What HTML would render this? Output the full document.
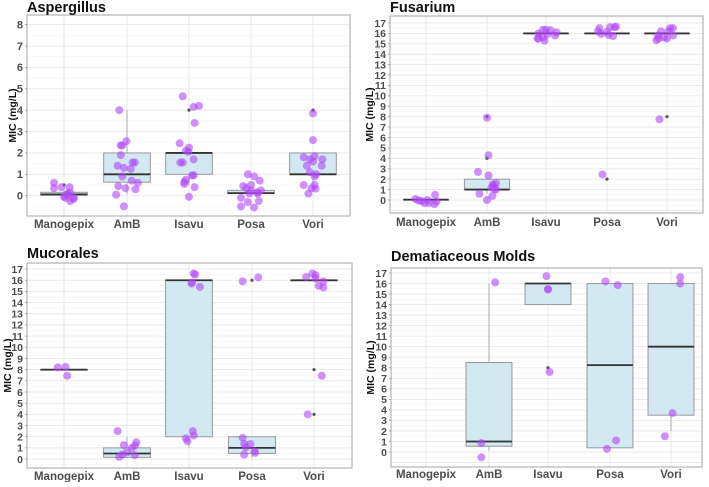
<!DOCTYPE html>
<html><head><meta charset="utf-8"><style>
body{margin:0;background:#fff;}
svg text{font-family:"Liberation Sans",Arial,sans-serif;}
</style></head><body>
<svg id="chart" width="709" height="482" viewBox="0 0 709 482"></svg>
<script>
const categories = ["Manogepix","AmB","Isavu","Posa","Vori"];
// box stats per panel: [lowWhisker, q1, median, q3, highWhisker] or null
const asperBoxes = [[0,0.02,0.06,0.16,0.25],[0.06,0.63,1,2,4],[0.5,1,2,2,2],[0.05,0.1,0.12,0.25,0.3],[0.5,1,1,2,2]];
const fusarBoxes = [[0,0.02,0.03,0.05,0.1],[0.6,1,1,2,2],[16,16,16,16,16],[16,16,16,16,16],[16,16,16,16,16]];
const mucorBoxes = [[8,8,8,8,8],[0.1,0.15,0.5,1,2],[1,2,16,16,16],[0.1,0.5,1,2,2],[16,16,16,16,16]];
const demaBoxes = [null,[0.1,0.55,1,8.5,16],[14,14,16,16,16],[0.4,0.4,8.25,16,16],[2,3.5,10,16,16]];
// outliers [categoryIndex, value]
const asperOutliers = [[0,0.5],[2,4],[4,4]];
const fusarOutliers = [[1,8],[1,4],[3,2],[4,8]];
const mucorOutliers = [[3,16],[4,8],[4,4]];
const demaOutliers = [[2,8]];
// points: [categoryIndex, jitter (category units), value]
const asperPoints = [[0,-0.32,0.6],[0,-0.32,0.35],[0,-0.08,0.4],[0,0.18,0.4],[0,0.2,0.15],[0,0.1,0.05],[0,0.0,-0.05],[0,0.05,-0.1],[0,0.32,-0.1],[0,0.2,-0.25],[0,0.3,-0.15],[0,0.12,0.1],
[1,-0.25,4.0],[1,-0.2,2.35],[1,-0.15,2.35],[1,-0.02,2.55],[1,-0.2,1.9],[1,-0.3,1.4],[1,-0.1,1.3],[1,0.12,1.25],[1,0.18,1.55],[1,0.25,1.55],[1,-0.15,0.9],[1,0.15,0.7],[1,0.35,0.6],[1,-0.28,0.45],[1,-0.05,0.35],[1,0.27,0.3],[1,-0.35,0.05],[1,-0.1,-0.5],
[2,-0.3,2.45],[2,0.0,2.25],[2,-0.1,2.1],[2,-0.02,2.05],[2,-0.28,1.55],[2,-0.2,1.55],[2,0.15,1.7],[2,0.15,4.15],[2,0.32,4.2],[2,-0.2,4.65],[2,0.18,3.4],[2,0.1,0.95],[2,0.15,0.95],[2,-0.1,0.75],[2,-0.15,0.65],[2,-0.15,0.55],[2,0.18,0.4],[2,0.0,-0.05],
[3,-0.1,1.0],[3,0.1,0.9],[3,0.28,0.7],[3,0.0,0.5],[3,-0.25,0.45],[3,-0.15,0.35],[3,0.0,0.25],[3,0.32,0.25],[3,0.2,0.15],[3,-0.05,0.1],[3,0.22,0.1],[3,-0.32,-0.1],[3,0.25,-0.25],[3,-0.1,-0.3],[3,-0.32,-0.5],[3,0.1,-0.55],
[4,0.0,3.85],[4,0.0,2.6],[4,0.05,1.85],[4,-0.3,1.8],[4,-0.1,1.7],[4,0.3,1.7],[4,0.0,1.6],[4,-0.2,1.4],[4,0.28,1.4],[4,-0.1,1.1],[4,0.1,1.0],[4,0.05,0.9],[4,-0.3,0.5],[4,0.05,0.5],[4,-0.05,0.35],[4,0.08,0.33],[4,-0.15,0.1]];
const fusarPoints = [[0,-0.35,0.1],[0,-0.15,-0.1],[0,-0.05,-0.3],[0,0.05,0.0],[0,0.1,-0.3],[0,0.28,-0.4],[0,0.35,-0.15],[0,0.3,0.5],[0,-0.25,-0.05],
[1,0.0,7.9],[1,0.05,4.3],[1,-0.3,2.7],[1,0.05,2.35],[1,0.3,1.6],[1,0.2,1.5],[1,0.2,1.35],[1,0.15,1.2],[1,0.25,1.05],[1,0.3,1.0],[1,-0.25,0.6],[1,0.18,0.4],[1,0.0,0.0],
[2,-0.1,16.35],[2,0.0,16.35],[2,0.15,16.3],[2,0.35,16.1],[2,-0.25,16.0],[2,0.05,15.9],[2,0.3,15.8],[2,-0.1,15.65],[2,-0.28,15.5],[2,-0.25,15.5],[2,-0.05,15.3],
[3,-0.25,16.5],[3,0.1,16.6],[3,0.25,16.6],[3,0.3,16.65],[3,-0.3,16.2],[3,0.0,16.15],[3,-0.2,15.95],[3,0.05,15.85],[3,0.2,15.75],[3,-0.15,2.45],
[4,0.1,16.5],[4,0.2,16.5],[4,-0.2,16.2],[4,0.05,16.2],[4,-0.3,15.8],[4,0.2,15.8],[4,-0.1,15.6],[4,0.0,15.5],[4,-0.28,15.5],[4,-0.35,15.35],[4,-0.25,7.75]];
const mucorPoints = [[0,-0.2,8.2],[0,0.05,8.25],[0,0.1,7.45],
[1,-0.3,2.5],[1,0.3,1.5],[1,0.25,1.2],[1,-0.1,1.25],[1,0.15,1.0],[1,0.0,0.6],[1,-0.15,0.4],[1,0.25,0.35],[1,-0.25,0.2],
[2,0.15,16.6],[2,0.2,16.5],[2,0.1,15.8],[2,0.08,15.7],[2,0.35,15.4],[2,0.12,2.5],[2,0.15,2.1],[2,-0.1,1.85],[2,-0.05,1.6],
[3,-0.3,15.9],[3,0.2,16.25],[3,-0.3,1.9],[3,-0.25,1.35],[3,-0.05,1.35],[3,-0.2,1.05],[3,0.08,0.7],[3,0.1,0.55],[3,-0.25,0.4],
[4,-0.25,16.3],[4,-0.05,16.6],[4,0.05,16.45],[4,0.05,16.15],[4,0.3,15.9],[4,0.15,15.5],[4,0.3,15.35],[4,0.25,7.45],[4,-0.2,4.0]];
const demaPoints = [[1,0.2,16.1],[1,-0.25,0.85],[1,-0.25,-0.5],
[2,-0.05,16.7],[2,0.0,15.45],[2,0.0,15.45],[2,0.05,7.6],
[3,-0.15,16.2],[3,0.25,15.85],[3,0.2,1.1],[3,-0.1,0.3],
[4,0.3,16.6],[4,0.3,16.0],[4,0.05,3.7],[4,-0.2,1.5]];

const panels = [
 {name:"aspergillus", title:"Aspergillus", L:27,R:350,T:15,B:216, ymin:-0.95, ymax:8.45, ticks:[0,1,2,3,4,5,6,7,8], cx:[64,127,189,251,313], titleY:12, ytitleX:13, xlabY:228, boxes:asperBoxes, outs:asperOutliers, pts:asperPoints},
 {name:"fusarium", title:"Fusarium", L:390,R:703,T:16,B:213, ymin:-1.25, ymax:17.67, ticks:[0,1,2,3,4,5,6,7,8,9,10,11,12,13,14,15,16,17], cx:[426,487,546,607,667], titleY:12, ytitleX:370, xlabY:226, boxes:fusarBoxes, outs:fusarOutliers, pts:fusarPoints},
 {name:"mucorales", title:"Mucorales", L:27,R:352,T:263,B:468, ymin:-0.8, ymax:17.54, ticks:[0,1,2,3,4,5,6,7,8,9,10,11,12,13,14,15,16,17], cx:[64,127,189,252,314], titleY:258, ytitleX:8, xlabY:480, boxes:mucorBoxes, outs:mucorOutliers, pts:mucorPoints},
 {name:"dematiaceous", title:"Dematiaceous Molds", L:391,R:702,T:268,B:467, ymin:-1.42, ymax:17.47, ticks:[0,1,2,3,4,5,6,7,8,9,10,11,12,13,14,15,16,17], cx:[426,489,548,610,671], titleY:261, ytitleX:371, xlabY:478, boxes:demaBoxes, outs:demaOutliers, pts:demaPoints}
];
const NS="http://www.w3.org/2000/svg";
const svg=document.getElementById('chart');
function mk(tag,attrs,parent,text){const e=document.createElementNS(NS,tag);for(const k in attrs)e.setAttribute(k,attrs[k]);if(text!==undefined)e.textContent=text;(parent||svg).appendChild(e);return e;}
panels.forEach(p=>{
 const g=mk('g',{});
 
 
 const y=v=>p.B-(v-p.ymin)/(p.ymax-p.ymin)*(p.B-p.T);
 const step=(p.cx[4]-p.cx[0])/4;
 const x=(i,j)=>p.cx[i]+j*step*0.5;
 for(let v=Math.ceil(p.ymin*2)/2; v<=p.ymax; v+=0.5){
  const minor = (v%1)!==0;
  const gl=mk('line',{x1:p.L,x2:p.R,y1:y(v),y2:y(v),stroke:minor?'#f3f3f3':'#e8e8e8','stroke-width':minor?0.6:0.9},g);
  
  
 }
 p.cx.forEach(c=>{mk('line',{x1:c,x2:c,y1:p.T,y2:p.B,stroke:'#e8e8e8','stroke-width':0.9},g);});
 p.ticks.forEach(t=>{
  const tl=mk('text',{x:p.L-4,y:y(t)+3.8,'text-anchor':'end','font-size':p.ticks.length>10?10.5:11,'font-weight':'bold',fill:'#4d4d4d'},g,String(t));
  
  
  mk('line',{x1:p.L-2,x2:p.L,y1:y(t),y2:y(t),stroke:'#888','stroke-width':0.8},g);
 });
 categories.forEach((c,i)=>{
  const xl=mk('text',{x:p.cx[i],y:p.xlabY,'text-anchor':'middle','font-size':11.5,'font-weight':'bold',fill:'#4d4d4d'},g,c);
  
  
 });
 p.boxes.forEach((b,i)=>{
  if(!b)return;
  const w=step*0.375;
  const bg=mk('g',{},g);
  
  
  mk('line',{x1:x(i,0),x2:x(i,0),y1:y(b[0]),y2:y(b[1]),stroke:'#aaa','stroke-width':1},bg);
  mk('line',{x1:x(i,0),x2:x(i,0),y1:y(b[3]),y2:y(b[4]),stroke:'#aaa','stroke-width':1},bg);
  mk('rect',{x:x(i,0)-w,y:y(b[3]),width:2*w,height:Math.max(0.5,y(b[1])-y(b[3])),fill:'#d3e9f1',stroke:'#999','stroke-width':1},bg);
  mk('line',{x1:x(i,0)-w,x2:x(i,0)+w,y1:y(b[2]),y2:y(b[2]),stroke:'#333','stroke-width':1.8},bg);
 });
 p.outs.forEach(o=>{
  const c=mk('circle',{cx:x(o[0],0),cy:y(o[1]),r:1.6,fill:'#555'},g);
  
  
 });
 p.pts.forEach(pt=>{
  const c=mk('circle',{cx:x(pt[0],pt[1]),cy:y(pt[2]),r:4,fill:'rgba(176,70,250,0.6)'},g);
  
  
 });
 const fr=mk('rect',{x:p.L,y:p.T,width:p.R-p.L,height:p.B-p.T,fill:'none',stroke:'#b3b3b3','stroke-width':1.2},g);
 
 
 const tt=mk('text',{x:p.L,y:p.titleY,'font-size':14.5,'font-weight':'bold',fill:'#111'},g,p.title);
 
 
 const cy=(p.T+p.B)/2;
 const yt=mk('text',{x:p.ytitleX,y:cy,transform:`rotate(-90 ${p.ytitleX} ${cy})`,'text-anchor':'middle','font-size':10.5,'font-weight':'bold',fill:'#111','dominant-baseline':'middle'},g,'MIC (mg/L)');
 
 
});
</script>
</body></html>
